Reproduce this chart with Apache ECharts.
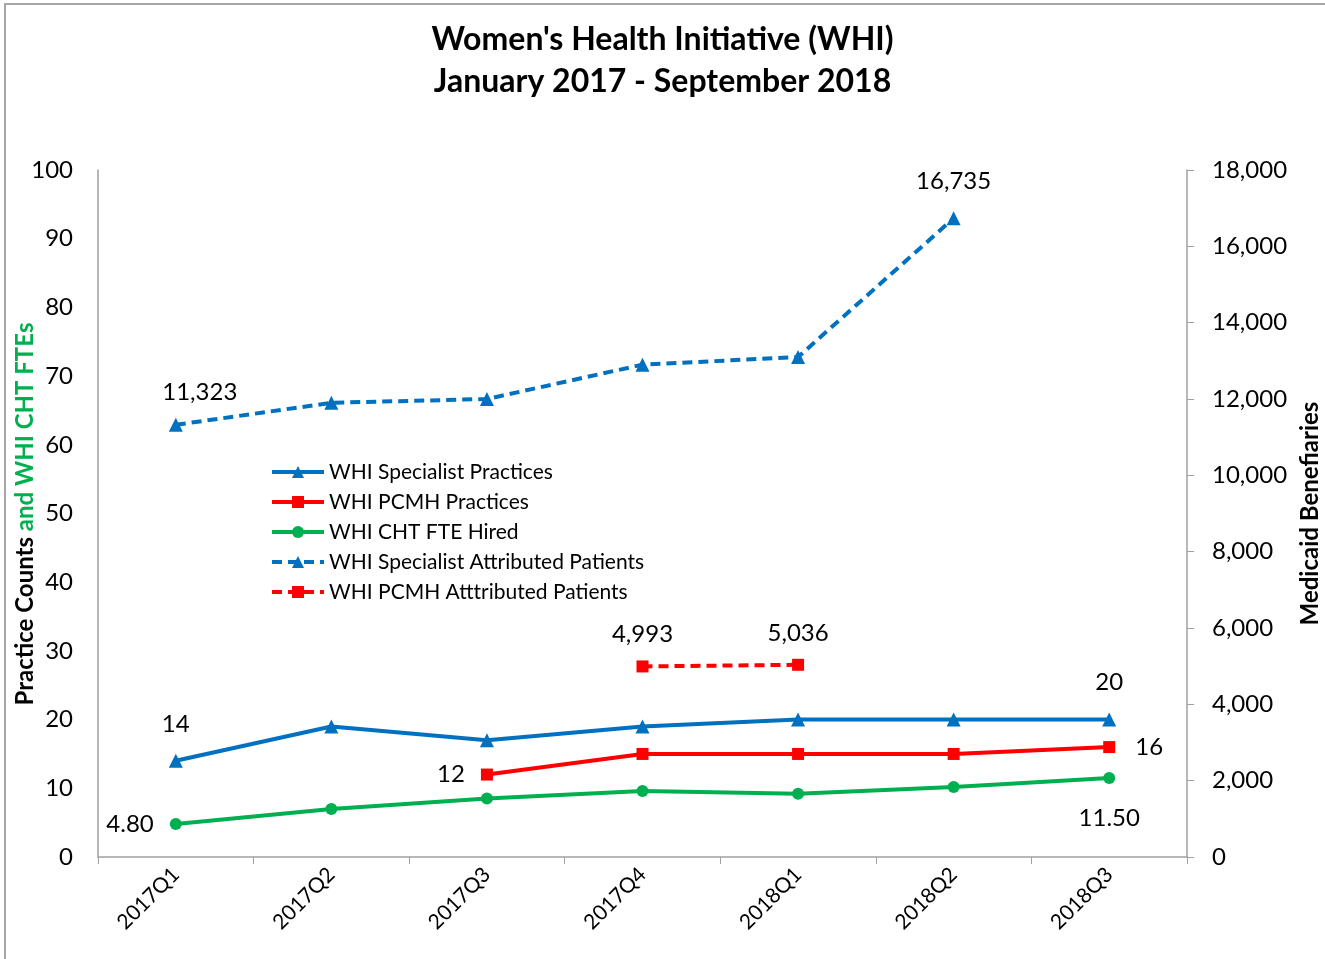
<!DOCTYPE html>
<html>
<head>
<meta charset="utf-8">
<script src="https://cdn.jsdelivr.net/npm/echarts@6/dist/echarts.min.js"></script>
<style>
  html, body { margin: 0; padding: 0; background: #fff; }
  #chart { width: 1325px; height: 959px; }
</style>
</head>
<body>
<div id="chart"></div>
<script>
// categories
const quarters = ['2017Q1', '2017Q2', '2017Q3', '2017Q4', '2018Q1', '2018Q2', '2018Q3'];
// left axis series
const specialistPractices = [14, 19, 17, 19, 20, 20, 20];
const pcmhPractices = [null, null, 12, 15, 15, 15, 16];
const chtFteHired = [4.8, 7, 8.5, 9.6, 9.2, 10.2, 11.5];
// right axis series
const specialistPatients = [11323, 11900, 12000, 12900, 13100, 16735, null];
const pcmhPatients = [null, null, null, 4993, 5036, null, null];
// tick labels
const leftTicks = { min: 0, max: 100, interval: 10 };
const rightTicks = { min: 0, max: 18000, interval: 2000 };

const FONT = 'Lato';
const BLUE = '#0070C0';
const RED = '#FF0000';
const GREEN = '#00B050';

const fmtThousands = v => Math.round(v).toLocaleString('en-US');

// wrap selected points with a label
function withLabels(values, labels) {
  return values.map((v, i) => {
    if (labels[i] && v != null) {
      return { value: v, label: Object.assign({ show: true, color: '#000', fontSize: 24, fontFamily: FONT }, labels[i]) };
    }
    return v;
  });
}

const chart = echarts.init(document.getElementById('chart'));

const option = {
  animation: false,
  textStyle: { fontFamily: FONT },
  title: {
    text: "Women's Health Initiative (WHI)\nJanuary 2017 - September 2018",
    left: 'center',
    top: 14,
    textStyle: { fontSize: 32, fontWeight: 'bold', color: '#000', lineHeight: 42, fontFamily: FONT }
  },
  graphic: [
    {
      type: 'rect',
      shape: { x: 5, y: 4, width: 1340, height: 970 },
      style: { fill: 'none', stroke: '#a6a6a6', lineWidth: 2 },
      silent: true
    },
    {
      // left axis title, two colours
      type: 'text',
      x: 25,
      y: 514,
      rotation: Math.PI / 2,
      silent: true,
      style: {
        text: '{a|Practice Counts }{b|and WHI CHT FTEs}',
        align: 'center',
        verticalAlign: 'middle',
        rich: {
          a: { fontSize: 24, fontWeight: 'bold', fill: '#000', fontFamily: FONT },
          b: { fontSize: 24, fontWeight: 'bold', fill: GREEN, fontFamily: FONT }
        }
      }
    }
  ],
  legend: {
    orient: 'vertical',
    left: 265,
    top: 456,
    itemWidth: 52,
    itemHeight: 15,
    itemGap: 8,
    lineStyle: { width: 4 },
    textStyle: { fontSize: 21, color: '#000', lineHeight: 22, fontFamily: FONT },
    data: ['WHI Specialist Practices', 'WHI PCMH Practices', 'WHI CHT FTE Hired',
      'WHI Specialist Attributed Patients', 'WHI PCMH Atttributed Patients']
  },
  grid: { left: 98, right: 138, top: 170, bottom: 102, outerBoundsMode: 'none' },
  xAxis: {
    type: 'category',
    data: quarters,
    boundaryGap: true,
    axisLine: { lineStyle: { color: '#a0a0a0', width: 1.5 } },
    axisTick: { show: true, length: 7, lineStyle: { color: '#a0a0a0' } },
    axisLabel: { rotate: 45, fontSize: 21, color: '#000', margin: 14, fontFamily: FONT }
  },
  yAxis: [
    {
      type: 'value',
      min: leftTicks.min, max: leftTicks.max, interval: leftTicks.interval,
      splitLine: { show: false },
      axisLine: { show: true, lineStyle: { color: '#a0a0a0', width: 1.5 } },
      axisTick: { show: false },
      axisLabel: { fontSize: 24, color: '#000', margin: 25, fontFamily: FONT }
    },
    {
      type: 'value',
      position: 'right',
      min: rightTicks.min, max: rightTicks.max, interval: rightTicks.interval,
      name: 'Medicaid Benefiaries',
      nameLocation: 'middle',
      nameRotate: 90,
      nameGap: 108,
      nameTextStyle: { fontSize: 24, fontWeight: 'bold', color: '#000', fontFamily: FONT },
      splitLine: { show: false },
      axisLine: { show: true, lineStyle: { color: '#a0a0a0', width: 1.5 } },
      axisTick: { show: true, inside: false, length: 7, lineStyle: { color: '#a0a0a0' } },
      axisLabel: { fontSize: 24, color: '#000', margin: 25, fontFamily: FONT, formatter: fmtThousands }
    }
  ],
  series: [
    {
      name: 'WHI Specialist Practices',
      type: 'line',
      yAxisIndex: 0,
      data: withLabels(specialistPractices, {
        0: { position: 'top', distance: 18 },
        6: { position: 'top', distance: 18 }
      }),
      symbol: 'triangle', symbolSize: 14,
      lineStyle: { color: BLUE, width: 4 },
      itemStyle: { color: BLUE }
    },
    {
      name: 'WHI PCMH Practices',
      type: 'line',
      yAxisIndex: 0,
      data: withLabels(pcmhPractices, {
        2: { position: 'left', distance: 16 },
        6: { position: 'right', distance: 20 }
      }),
      symbol: 'rect', symbolSize: 12,
      lineStyle: { color: RED, width: 4 },
      itemStyle: { color: RED }
    },
    {
      name: 'WHI CHT FTE Hired',
      type: 'line',
      yAxisIndex: 0,
      data: withLabels(chtFteHired, {
        0: { position: 'left', distance: 16, formatter: p => p.value.toFixed(2) },
        6: { position: 'bottom', distance: 22, formatter: p => p.value.toFixed(2) }
      }),
      symbol: 'circle', symbolSize: 12,
      lineStyle: { color: GREEN, width: 4 },
      itemStyle: { color: GREEN }
    },
    {
      name: 'WHI Specialist Attributed Patients',
      type: 'line',
      yAxisIndex: 1,
      data: withLabels(specialistPatients, {
        0: { position: 'top', distance: 14, offset: [24, 0], formatter: p => fmtThousands(p.value) },
        5: { position: 'top', distance: 18, formatter: p => fmtThousands(p.value) }
      }),
      symbol: 'triangle', symbolSize: 14,
      lineStyle: { color: BLUE, width: 4, type: [10, 6] },
      itemStyle: { color: BLUE }
    },
    {
      name: 'WHI PCMH Atttributed Patients',
      type: 'line',
      yAxisIndex: 1,
      data: withLabels(pcmhPatients, {
        3: { position: 'top', distance: 14, formatter: p => fmtThousands(p.value) },
        4: { position: 'top', distance: 14, formatter: p => fmtThousands(p.value) }
      }),
      symbol: 'rect', symbolSize: 12,
      lineStyle: { color: RED, width: 4, type: [10, 6] },
      itemStyle: { color: RED }
    }
  ]
};

chart.setOption(option);
</script>
</body>
</html>
